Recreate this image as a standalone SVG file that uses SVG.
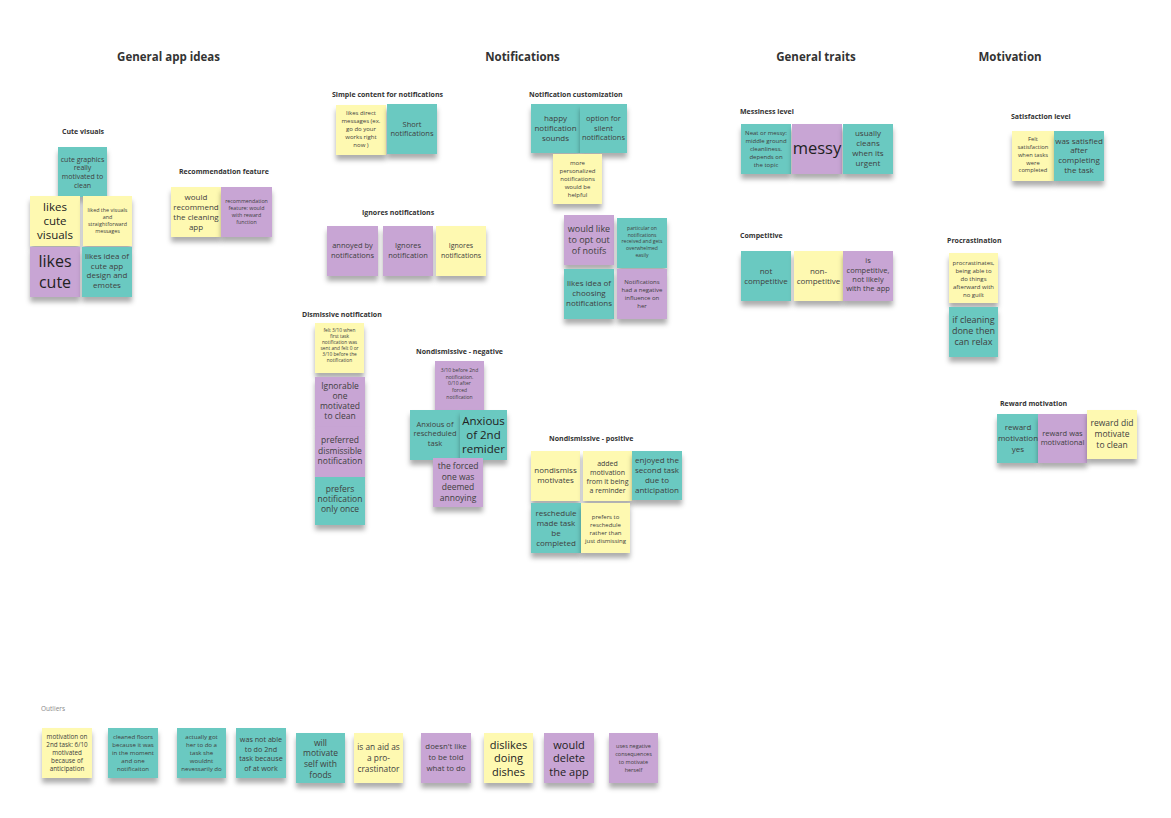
<svg xmlns="http://www.w3.org/2000/svg" width="1171" height="818" viewBox="0 0 1171 818">
<style>
text{font-family:"Open Sans","Liberation Sans",sans-serif}
.y{fill:#fef9b1}
.t{fill:#6bc9c1}
.p{fill:#c8a5d4}
.n{filter:url(#sh)}
.s{text-anchor:middle;fill:#404040}
.b{fill:#222}
.lbl{font-size:7px;font-weight:700;fill:#333}
.ttl{font-size:11.5px;font-weight:700;fill:#333;text-anchor:middle}
</style>
<defs>
<filter id="sh" x="-20%" y="-20%" width="140%" height="150%">
<feDropShadow dx="0" dy="5" stdDeviation="2.4" flood-color="#000" flood-opacity="0.32"/>
</filter>
</defs>
<rect width="1171" height="818" fill="#ffffff"/>

<g id="titles">
<text class="ttl" x="168.5" y="61">General app ideas</text>
<text class="ttl" x="522.5" y="61">Notifications</text>
<text class="ttl" x="816" y="61">General traits</text>
<text class="ttl" x="1010" y="61">Motivation</text>
</g>

<g id="labels">
<text class="lbl" x="62" y="133.5">Cute visuals</text>
<text class="lbl" x="179" y="174">Recommendation feature</text>
<text class="lbl" x="332" y="96.5">Simple content for notifications</text>
<text class="lbl" x="362" y="215">Ignores notifications</text>
<text class="lbl" x="529" y="96.5">Notification customization</text>
<text class="lbl" x="302" y="316.5">Dismissive notification</text>
<text class="lbl" x="416" y="353.5">Nondismissive - negative</text>
<text class="lbl" x="549" y="440.8">Nondismissive - positive</text>
<text class="lbl" x="740" y="114">Messiness level</text>
<text class="lbl" x="740" y="237.5">Competitive</text>
<text class="lbl" x="1011" y="119">Satisfaction level</text>
<text class="lbl" x="947" y="242.5">Procrastination</text>
<text class="lbl" x="1000" y="405.8">Reward motivation</text>
<text x="41" y="710.5" style="font-size:6.5px;fill:#888">Outliers</text>
</g>

<g id="n1"><rect class="t n" x="58" y="147" width="49" height="50"/>
<text class="s" x="82.5" y="161.5" font-size="7"><tspan x="82.5">cute graphics</tspan><tspan x="82.5" dy="8.7">really</tspan><tspan x="82.5" dy="8.7">motivated to</tspan><tspan x="82.5" dy="8.7">clean</tspan></text></g>
<g id="n2"><rect class="y n" x="30" y="196" width="50" height="50"/>
<text class="s b" x="55" y="211" font-size="11.5"><tspan x="55">likes</tspan><tspan x="55" dy="14">cute</tspan><tspan x="55" dy="14">visuals</tspan></text></g>
<g id="n3"><rect class="y n" x="83" y="196" width="49" height="50"/>
<text class="s" x="107.5" y="211.5" font-size="5.4"><tspan x="107.5">liked the visuals</tspan><tspan x="107.5" dy="7.3">and</tspan><tspan x="107.5" dy="7.3">straightforward</tspan><tspan x="107.5" dy="7.3">messages</tspan></text></g>
<g id="n4"><rect class="p n" x="30" y="247" width="50" height="50"/>
<text class="s b" x="55" y="267" font-size="16"><tspan x="55">likes</tspan><tspan x="55" dy="21">cute</tspan></text></g>
<g id="n5"><rect class="t n" x="82" y="247" width="50" height="50"/>
<text class="s" x="107" y="259" font-size="8"><tspan x="107">likes idea of</tspan><tspan x="107" dy="9.7">cute app</tspan><tspan x="107" dy="9.7">design and</tspan><tspan x="107" dy="9.7">emotes</tspan></text></g>
<g id="n6"><rect class="y n" x="171" y="187" width="50" height="50"/>
<text class="s" x="196" y="200" font-size="8"><tspan x="196">would</tspan><tspan x="196" dy="10">recommend</tspan><tspan x="196" dy="10">the cleaning</tspan><tspan x="196" dy="10">app</tspan></text></g>
<g id="n7"><rect class="p n" x="221" y="187" width="51" height="50"/>
<text class="s" x="246.5" y="203" font-size="5.3"><tspan x="246.5">recommendation</tspan><tspan x="246.5" dy="7">feature: would</tspan><tspan x="246.5" dy="7">with reward</tspan><tspan x="246.5" dy="7">function</tspan></text></g>

<g id="n8"><rect class="y n" x="336" y="105" width="50" height="50"/>
<text class="s" x="361" y="115" font-size="6"><tspan x="361">likes direct</tspan><tspan x="361" dy="8">messages (ex.</tspan><tspan x="361" dy="8">go do your</tspan><tspan x="361" dy="8">works right</tspan><tspan x="361" dy="8">now )</tspan></text></g>
<g id="n9"><rect class="t n" x="387" y="104" width="50" height="50"/>
<text class="s" x="412" y="126.5" font-size="7.5"><tspan x="412">Short</tspan><tspan x="412" dy="9">notifications</tspan></text></g>
<g id="n10"><rect class="p n" x="327" y="226" width="51" height="50"/>
<text class="s" x="352.5" y="248" font-size="7.5"><tspan x="352.5">annoyed by</tspan><tspan x="352.5" dy="10">notifications</tspan></text></g>
<g id="n11"><rect class="p n" x="383" y="226" width="50" height="50"/>
<text class="s" x="408" y="248" font-size="7.5"><tspan x="408">Ignores</tspan><tspan x="408" dy="10">notification</tspan></text></g>
<g id="n12"><rect class="y n" x="436" y="226" width="50" height="50"/>
<text class="s" x="461" y="248" font-size="7"><tspan x="461">Ignores</tspan><tspan x="461" dy="10">notifications</tspan></text></g>

<g id="n13"><rect class="t n" x="531" y="104" width="49" height="49"/>
<text class="s" x="555.5" y="120.5" font-size="8"><tspan x="555.5">happy</tspan><tspan x="555.5" dy="10">notification</tspan><tspan x="555.5" dy="10">sounds</tspan></text></g>
<g id="n14"><rect class="t n" x="580" y="104" width="47" height="49"/>
<text class="s" x="603.5" y="121" font-size="7.5"><tspan x="603.5">option for</tspan><tspan x="603.5" dy="9.5">silent</tspan><tspan x="603.5" dy="9.5">notifications</tspan></text></g>
<g id="n15"><rect class="y n" x="553" y="154" width="49" height="50"/>
<text class="s" x="577.5" y="164.8" font-size="6"><tspan x="577.5">more</tspan><tspan x="577.5" dy="8">personalized</tspan><tspan x="577.5" dy="8">notifications</tspan><tspan x="577.5" dy="8">would be</tspan><tspan x="577.5" dy="8">helpful</tspan></text></g>
<g id="n16"><rect class="p n" x="564" y="215" width="50" height="50"/>
<text class="s" x="589" y="231.5" font-size="9"><tspan x="589">would like</tspan><tspan x="589" dy="11">to opt out</tspan><tspan x="589" dy="11">of notifs</tspan></text></g>
<g id="n17"><rect class="t n" x="617" y="218" width="50" height="50"/>
<text class="s" x="642" y="230" font-size="5"><tspan x="642">particular on</tspan><tspan x="642" dy="6.7">notifications</tspan><tspan x="642" dy="6.7">received and gets</tspan><tspan x="642" dy="6.7">overwhelmed</tspan><tspan x="642" dy="6.7">easily</tspan></text></g>
<g id="n18"><rect class="t n" x="564" y="269" width="50" height="50"/>
<text class="s" x="589" y="286" font-size="8"><tspan x="589">likes idea of</tspan><tspan x="589" dy="10">choosing</tspan><tspan x="589" dy="10">notifications</tspan></text></g>
<g id="n19"><rect class="p n" x="617" y="269" width="50" height="50"/>
<text class="s" x="642" y="283.7" font-size="6"><tspan x="642">Notifications</tspan><tspan x="642" dy="8">had a negative</tspan><tspan x="642" dy="8">influence on</tspan><tspan x="642" dy="8">her</tspan></text></g>

<g id="n20"><rect class="y n" x="315" y="323" width="49" height="50"/>
<text class="s" x="339.5" y="331.5" font-size="4.8"><tspan x="339.5">felt 3/10 when</tspan><tspan x="339.5" dy="6">first task</tspan><tspan x="339.5" dy="6">notification was</tspan><tspan x="339.5" dy="6">sent and felt 0 or</tspan><tspan x="339.5" dy="6">3/10 before the</tspan><tspan x="339.5" dy="6">notification</tspan></text></g>
<g id="n21"><rect class="p n" x="315" y="377" width="50" height="50"/>
<text class="s" x="340" y="388.5" font-size="8.5"><tspan x="340">Ignorable</tspan><tspan x="340" dy="10.3">one</tspan><tspan x="340" dy="10.3">motivated</tspan><tspan x="340" dy="10.3">to clean</tspan></text></g>
<g id="n22"><rect class="p n" x="315" y="427" width="50" height="50"/>
<text class="s" x="340" y="443" font-size="8.5"><tspan x="340">preferred</tspan><tspan x="340" dy="10.5">dismissible</tspan><tspan x="340" dy="10.5">notification</tspan></text></g>
<g id="n23"><rect class="t n" x="315" y="477" width="50" height="48"/>
<text class="s" x="340" y="492.3" font-size="8.5"><tspan x="340">prefers</tspan><tspan x="340" dy="10">notification</tspan><tspan x="340" dy="10">only once</tspan></text></g>

<g id="n24"><rect class="p n" x="435" y="361" width="49" height="50"/>
<text class="s" x="459.5" y="372" font-size="5"><tspan x="459.5">3/10 before 2nd</tspan><tspan x="459.5" dy="6.7">notification.</tspan><tspan x="459.5" dy="6.7">0/10 after</tspan><tspan x="459.5" dy="6.7">forced</tspan><tspan x="459.5" dy="6.7">notification</tspan></text></g>
<g id="n25"><rect class="t n" x="410" y="410" width="50" height="50"/>
<text class="s" x="435" y="427" font-size="7.5"><tspan x="435">Anxious of</tspan><tspan x="435" dy="9.3">rescheduled</tspan><tspan x="435" dy="9.3">task</tspan></text></g>
<g id="n26"><rect class="t n" x="460" y="410" width="47" height="50"/>
<text class="s b" x="483.5" y="424.8" font-size="11.5"><tspan x="483.5">Anxious</tspan><tspan x="483.5" dy="14">of 2nd</tspan><tspan x="483.5" dy="14">remider</tspan></text></g>
<g id="n27"><rect class="p n" x="433" y="458" width="50" height="49"/>
<text class="s" x="458" y="469" font-size="8.5"><tspan x="458">the forced</tspan><tspan x="458" dy="10.5">one was</tspan><tspan x="458" dy="10.5">deemed</tspan><tspan x="458" dy="10.5">annoying</tspan></text></g>

<g id="n28"><rect class="y n" x="531" y="451" width="49" height="50"/>
<text class="s" x="555.5" y="473" font-size="8"><tspan x="555.5">nondismiss</tspan><tspan x="555.5" dy="10">motivates</tspan></text></g>
<g id="n29"><rect class="y n" x="583" y="451" width="49" height="50"/>
<text class="s" x="607.5" y="466" font-size="7"><tspan x="607.5">added</tspan><tspan x="607.5" dy="9">motivation</tspan><tspan x="607.5" dy="9">from it being</tspan><tspan x="607.5" dy="9">a reminder</tspan></text></g>
<g id="n30"><rect class="t n" x="632" y="451" width="50" height="49"/>
<text class="s" x="657" y="463" font-size="8"><tspan x="657">enjoyed the</tspan><tspan x="657" dy="10">second task</tspan><tspan x="657" dy="10">due to</tspan><tspan x="657" dy="10">anticipation</tspan></text></g>
<g id="n31"><rect class="t n" x="531" y="503" width="50" height="50"/>
<text class="s" x="556" y="516.3" font-size="8"><tspan x="556">reschedule</tspan><tspan x="556" dy="10">made task</tspan><tspan x="556" dy="10">be</tspan><tspan x="556" dy="10">completed</tspan></text></g>
<g id="n32"><rect class="y n" x="581" y="503" width="49" height="50"/>
<text class="s" x="605.5" y="518.8" font-size="6"><tspan x="605.5">prefers to</tspan><tspan x="605.5" dy="8">reschedule</tspan><tspan x="605.5" dy="8">rather than</tspan><tspan x="605.5" dy="8">just dismissing</tspan></text></g>

<g id="n33"><rect class="t n" x="741" y="124" width="50" height="50"/>
<text class="s" x="766" y="134.5" font-size="6"><tspan x="766">Neat or messy:</tspan><tspan x="766" dy="8">middle ground</tspan><tspan x="766" dy="8">cleanliness.</tspan><tspan x="766" dy="8">depends on</tspan><tspan x="766" dy="8">the topic</tspan></text></g>
<g id="n34"><rect class="p n" x="792" y="124" width="50" height="50"/>
<text class="s b" x="817" y="154" font-size="16.5">messy</text></g>
<g id="n35"><rect class="t n" x="843" y="124" width="50" height="50"/>
<text class="s" x="868" y="135.5" font-size="8"><tspan x="868">usually</tspan><tspan x="868" dy="10">cleans</tspan><tspan x="868" dy="10">when its</tspan><tspan x="868" dy="10">urgent</tspan></text></g>
<g id="n36"><rect class="t n" x="741" y="251" width="50" height="50"/>
<text class="s" x="766" y="274" font-size="8"><tspan x="766">not</tspan><tspan x="766" dy="10">competitive</tspan></text></g>
<g id="n37"><rect class="y n" x="794" y="251" width="49" height="50"/>
<text class="s" x="818.5" y="274" font-size="8"><tspan x="818.5">non-</tspan><tspan x="818.5" dy="10">competitive</tspan></text></g>
<g id="n38"><rect class="p n" x="843" y="251" width="50" height="50"/>
<text class="s" x="868" y="263.3" font-size="7.5"><tspan x="868">is</tspan><tspan x="868" dy="9.3">competitive,</tspan><tspan x="868" dy="9.3">not likely</tspan><tspan x="868" dy="9.3">with the app</tspan></text></g>

<g id="n39"><rect class="y n" x="1012" y="131" width="42" height="50"/>
<text class="s" x="1033" y="141.4" font-size="5.8"><tspan x="1033">Felt</tspan><tspan x="1033" dy="7.7">satisfaction</tspan><tspan x="1033" dy="7.7">when tasks</tspan><tspan x="1033" dy="7.7">were</tspan><tspan x="1033" dy="7.7">completed</tspan></text></g>
<g id="n40"><rect class="t n" x="1054" y="131" width="50" height="50"/>
<text class="s" x="1079" y="143.5" font-size="8"><tspan x="1079">was satisfied</tspan><tspan x="1079" dy="9.7">after</tspan><tspan x="1079" dy="9.7">completing</tspan><tspan x="1079" dy="9.7">the task</tspan></text></g>
<g id="n41"><rect class="y n" x="949" y="253" width="49" height="50"/>
<text class="s" x="973.5" y="264.5" font-size="6"><tspan x="973.5">procrastinates,</tspan><tspan x="973.5" dy="8">being able to</tspan><tspan x="973.5" dy="8">do things</tspan><tspan x="973.5" dy="8">afterward with</tspan><tspan x="973.5" dy="8">no guilt</tspan></text></g>
<g id="n42"><rect class="t n" x="949" y="307" width="49" height="50"/>
<text class="s" x="973.5" y="322.5" font-size="9"><tspan x="973.5">if cleaning</tspan><tspan x="973.5" dy="11.3">done then</tspan><tspan x="973.5" dy="11.3">can relax</tspan></text></g>
<g id="n43"><rect class="t n" x="997" y="414" width="41" height="49"/>
<text class="s" x="1018" y="430" font-size="8"><tspan x="1018">reward</tspan><tspan x="1018" dy="11">motivation</tspan><tspan x="1018" dy="11">yes</tspan></text></g>
<g id="n44"><rect class="p n" x="1038" y="414" width="49" height="49"/>
<text class="s" x="1062.5" y="436" font-size="7.5"><tspan x="1062.5">reward was</tspan><tspan x="1062.5" dy="9">motivational</tspan></text></g>
<g id="n45"><rect class="y n" x="1087" y="410" width="50" height="49"/>
<text class="s" x="1112" y="426.3" font-size="8.5"><tspan x="1112">reward did</tspan><tspan x="1112" dy="11">motivate</tspan><tspan x="1112" dy="11">to clean</tspan></text></g>

<g id="n46"><rect class="y n" x="42" y="728" width="50" height="50"/>
<text class="s" x="67" y="739" font-size="6.3"><tspan x="67">motivation on</tspan><tspan x="67" dy="8">2nd task: 6/10</tspan><tspan x="67" dy="8">motivated</tspan><tspan x="67" dy="8">because of</tspan><tspan x="67" dy="8">anticipation</tspan></text></g>
<g id="n47"><rect class="t n" x="108" y="728" width="50" height="50"/>
<text class="s" x="133" y="739" font-size="6.1"><tspan x="133">cleaned floors</tspan><tspan x="133" dy="8">because it was</tspan><tspan x="133" dy="8">in the moment</tspan><tspan x="133" dy="8">and one</tspan><tspan x="133" dy="8">notificaiton</tspan></text></g>
<g id="n48"><rect class="t n" x="177" y="728" width="49" height="50"/>
<text class="s" x="201.5" y="739" font-size="6.1"><tspan x="201.5">actually got</tspan><tspan x="201.5" dy="8">her to do a</tspan><tspan x="201.5" dy="8">task she</tspan><tspan x="201.5" dy="8">wouldnt</tspan><tspan x="201.5" dy="8">nevessarily do</tspan></text></g>
<g id="n49"><rect class="t n" x="236" y="728" width="50" height="50"/>
<text class="s" x="261" y="741.8" font-size="7.2"><tspan x="261">was not able</tspan><tspan x="261" dy="9.7">to do 2nd</tspan><tspan x="261" dy="9.7">task because</tspan><tspan x="261" dy="9.7">of at work</tspan></text></g>
<g id="n50"><rect class="t n" x="296" y="733" width="49" height="50"/>
<text class="s" x="320.5" y="745.5" font-size="8.5"><tspan x="320.5">will</tspan><tspan x="320.5" dy="10.7">motivate</tspan><tspan x="320.5" dy="10.7">self with</tspan><tspan x="320.5" dy="10.7">foods</tspan></text></g>
<g id="n51"><rect class="y n" x="354" y="733" width="49" height="50"/>
<text class="s" x="378.5" y="749.5" font-size="8.3"><tspan x="378.5">is an aid as</tspan><tspan x="378.5" dy="11">a pro-</tspan><tspan x="378.5" dy="11">crastinator</tspan></text></g>
<g id="n52"><rect class="p n" x="421" y="733" width="50" height="50"/>
<text class="s" x="446" y="749.3" font-size="7.8"><tspan x="446">doesn't like</tspan><tspan x="446" dy="11">to be told</tspan><tspan x="446" dy="11">what to do</tspan></text></g>
<g id="n53"><rect class="y n" x="484" y="733" width="49" height="50"/>
<text class="s b" x="508.5" y="749" font-size="11"><tspan x="508.5">dislikes</tspan><tspan x="508.5" dy="13.3">doing</tspan><tspan x="508.5" dy="13.3">dishes</tspan></text></g>
<g id="n54"><rect class="p n" x="544" y="733" width="50" height="50"/>
<text class="s b" x="569" y="749" font-size="11"><tspan x="569">would</tspan><tspan x="569" dy="13.3">delete</tspan><tspan x="569" dy="13.3">the app</tspan></text></g>
<g id="n55"><rect class="p n" x="609" y="733" width="49" height="50"/>
<text class="s" x="633.5" y="748" font-size="5.5"><tspan x="633.5">uses negative</tspan><tspan x="633.5" dy="8">consequences</tspan><tspan x="633.5" dy="8">to motivate</tspan><tspan x="633.5" dy="8">herself</tspan></text></g>
</svg>
